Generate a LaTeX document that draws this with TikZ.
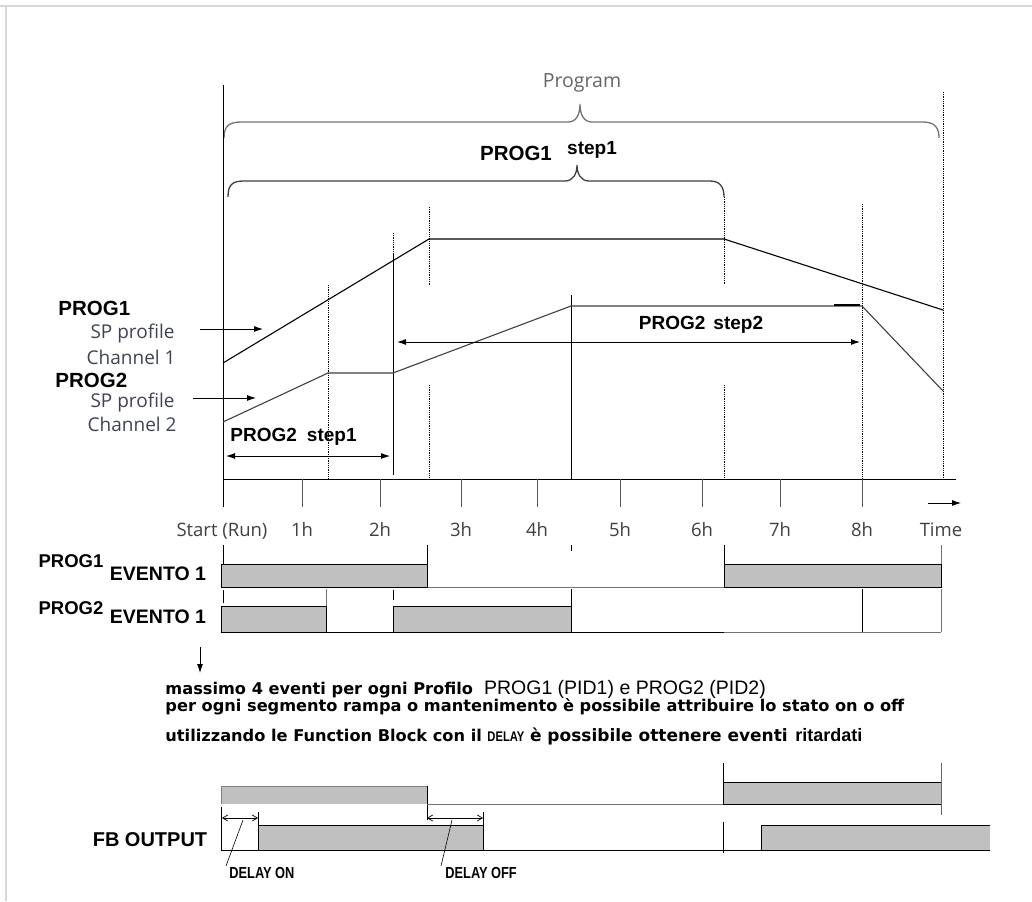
\documentclass[tikz,border=0pt]{standalone}
\usepackage{fontspec}
\setmainfont{Liberation Sans}
\newfontfamily\thinfont{Open Sans}
\newfontfamily\widefont{DejaVu Sans}
\newfontfamily\narrowfont[FakeStretch=0.8]{Liberation Sans}
\usetikzlibrary{arrows.meta}

\definecolor{bargray}{RGB}{192,192,192}
\definecolor{framegray}{RGB}{216,216,216}
\definecolor{chgray}{RGB}{62,68,82}
\newcommand{\fs}[1]{\fontsize{#1}{#1}\selectfont}

\begin{document}
\begin{tikzpicture}[x=1pt,y=-1pt,line width=0.9pt,
  dotline/.style={densely dotted,line width=0.8pt},
  evbar/.style={draw=black,fill=bargray,line width=1pt},
  brace/.style={draw=black!55,line width=1.3pt},
  hlbl/.style={font=\thinfont\fs{18.5},text=black!75,inner sep=0pt,anchor=base},
  chlbl/.style={font=\thinfont\fs{19},text=chgray,inner sep=0pt,anchor=east},
  bold/.style={font=\bfseries\fs{19},inner sep=0pt},
  note/.style={font=\widefont\bfseries\fs{16.2},inner sep=0pt,anchor=west},
  dly/.style={font=\narrowfont\bfseries\fs{16},inner sep=0pt,anchor=west},
  arr/.style={-{Latex[length=9pt,width=6pt]}},
  dim/.style={{Straight Barb[length=5pt,width=6pt]}-{Straight Barb[length=5pt,width=6pt]},line width=0.7pt}]
  \useasboundingbox (0,0) rectangle (1032,901);
  \draw[framegray,line width=2pt] (0,6) -- (1032,6);
  \draw[framegray,line width=2pt] (6,6) -- (6,901);

  % braces
  \node[font=\thinfont\fs{19.5},text=black!60,inner sep=0pt] (prog) at (582,83) {Program};
  \draw[brace] (224,138) .. controls (224,125) and (230,122) .. (242,122) -- (568,122)
    .. controls (576,122) and (580,115) .. (580,104) .. controls (580,115) and (584,122) .. (592,122)
    -- (923,122) .. controls (935,122) and (939,128) .. (939,138);
  \node[bold,font=\bfseries\fs{20.5}] (p1) at (516,153) {PROG1};
  \node[bold] (s1) at (592,150) {step1};
  \draw[brace,draw=black!75] (228,197) .. controls (228,185) and (232,181) .. (244,181) -- (565,181)
    .. controls (573,181) and (577,174) .. (577,165) .. controls (577,174) and (581,181) .. (589,181)
    -- (710,181) .. controls (720,181) and (724,187) .. (724,197);

  % axes and time ticks
  \draw (223,85) -- (223,507);
  \draw (223,479) -- (956,479);
  \node[hlbl] (start) at (222,536) {Start (Run)};
  \foreach \x/\t [count=\i] in {302/1h,380/2h,461/3h,537/4h,620/5h,702/6h,780/7h,862/8h}{
    \draw[black!65] (\x,479) -- (\x,507);
    \node[hlbl] (h\i) at (\x,536) {\t};
  }
  \node[hlbl] (time) at (941,536) {Time};
  \coordinate (ta) at (928,503);
  \coordinate (tb) at (961,503);
  \draw[arr] (ta) -- (tb);

  % step boundaries
  \draw[dotline] (328,285) -- (328,479);
  \draw[dotline] (393,233) -- (393,262);
  \draw (393,253) -- (393,475);
  \draw[dotline] (429,207) -- (429,285);
  \draw[dotline] (429,385) -- (429,479);
  \draw (571,295) -- (571,479);
  \draw[dotline] (724,197) -- (724,285);
  \draw[dotline] (724,385) -- (724,479);
  \draw[dotline] (862,204) -- (862,479);
  \draw[dotline] (943,92) -- (943,479);

  % set point profiles
  \draw[line width=1.1pt] (223,363) -- (429,239) -- (724,239) -- (943,310);
  \draw[black!75,line width=1.1pt] (223,422) -- (328,373) -- (393,373) -- (571,306) -- (862,306) -- (943,391);
  \draw[line width=2pt] (834,305) -- (860,305);

  \node[bold,font=\bfseries\fs{20.5},anchor=west] (lp1) at (58,308) {PROG1};
  \node[chlbl] (sp1) at (175,334) {SP profile};
  \node[chlbl] (ch1) at (176,357) {Channel 1};
  \node[bold,font=\bfseries\fs{20.5},anchor=west] (lp2) at (55,380) {PROG2};
  \node[chlbl] (sp2) at (175,403) {SP profile};
  \node[chlbl] (ch2) at (177,424) {Channel 2};
  \coordinate (a1) at (200,329);
  \coordinate (b1) at (263,329);
  \coordinate (a2) at (193,398);
  \coordinate (b2) at (256,398);
  \draw[arr] (a1) -- (b1);
  \draw[arr] (a2) -- (b2);

  \node[bold,anchor=west] (st1) at (230,437) {PROG2\hspace{10pt}step1};
  \draw[arr,{Latex[length=9pt,width=6pt]}-{Latex[length=9pt,width=6pt]}] (226,456) -- (390,456);
  \node[bold] (st2) at (701,325) {PROG2\hspace{8pt}step2};
  \draw[arr,{Latex[length=9pt,width=6pt]}-{Latex[length=9pt,width=6pt]}] (397,342) -- (860,342);

  % events
  \node[bold,font=\bfseries\fs{18.5}] (e1a) at (71,561) {PROG1};
  \node[bold,font=\bfseries\fs{19.5}] (e1b) at (158,574) {EVENTO 1};
  \node[bold,font=\bfseries\fs{18.5}] (e2a) at (71,608) {PROG2};
  \node[bold,font=\bfseries\fs{19.5}] (e2b) at (158,617) {EVENTO 1};

  \draw[black!55] (221,587) -- (941,587);
  \draw[evbar] (221,564) rectangle (427,587);
  \draw[evbar] (724,564) rectangle (941,587);
  \draw (223,545) -- (223,564);
  \draw (427,545) -- (427,564);
  \draw (571,545) -- (571,551);
  \draw (724,545) -- (724,587);
  \draw[black!55] (941,545) -- (941,564);

  \draw (221,632) -- (724,632);
  \draw[black!55] (724,632) -- (941,632);
  \draw[evbar] (221,606) rectangle (326,632);
  \draw[evbar] (393,606) rectangle (571,632);
  \draw (223,590) -- (223,603);
  \draw[black!55] (326,589) -- (326,606);
  \draw (393,590) -- (393,600);
  \draw (571,589) -- (571,632);
  \draw (862,589) -- (862,632);
  \draw[black!55] (941,589) -- (941,632);

  \coordinate (da) at (200,647);
  \coordinate (db) at (200,673);
  \draw[arr] (da) -- (db);

  % notes
  \node[note] (n1) at (165,689) {massimo 4 eventi per ogni Profilo {\mdseries\rmfamily\fs{19.5} PROG1 (PID1) e PROG2 (PID2)}};
  \node[note] (n2) at (165,707) {per ogni segmento rampa o mantenimento è possibile attribuire lo stato on o off};
  \node[note] (n3) at (165,736) {utilizzando le Function Block con il {\narrowfont\fs{14}DELAY} {\fs{17}è possibile ottenere eventi} \hspace{2pt}{\rmfamily\fs{18}ritardati}};

  % function block output
  \fill[bargray] (221,786) rectangle (427,804);
  \draw[black!50] (221,804) |- (427,786);
  \draw (427,786) -- (427,820);
  \draw[black!55] (427,804) -- (723,804);
  \draw[evbar] (723,782) rectangle (941,804);
  \draw (723,763) -- (723,782);
  \draw[black!60] (941,763) -- (941,815);

  \node[bold,font=\bfseries\fs{20}] (fb) at (150,840) {FB OUTPUT};
  \draw (221,807) -- (221,850) -- (990,850);
  \draw[evbar] (258,850) |- (483,825) -- (483,850);
  \fill[bargray] (761,825) rectangle (990,850);
  \draw (761,850) |- (990,825);
  \draw (990,850) -- (761,850);
  \draw (723,822) -- (723,853);

  \draw (258,812) -- (258,825);
  \draw (483,812) -- (483,825);
  \draw[dim] (222,818) -- (258,818);
  \draw[dim] (427,818) -- (483,818);
  \node[dly] (don) at (229,873) {DELAY ON};
  \node[dly] (doff) at (445,873) {DELAY OFF};
  \draw[line width=0.6pt] (243,820) -- (226,866);
  \draw[line width=0.6pt] (452,820) -- (441,866);
\end{tikzpicture}
\end{document}
